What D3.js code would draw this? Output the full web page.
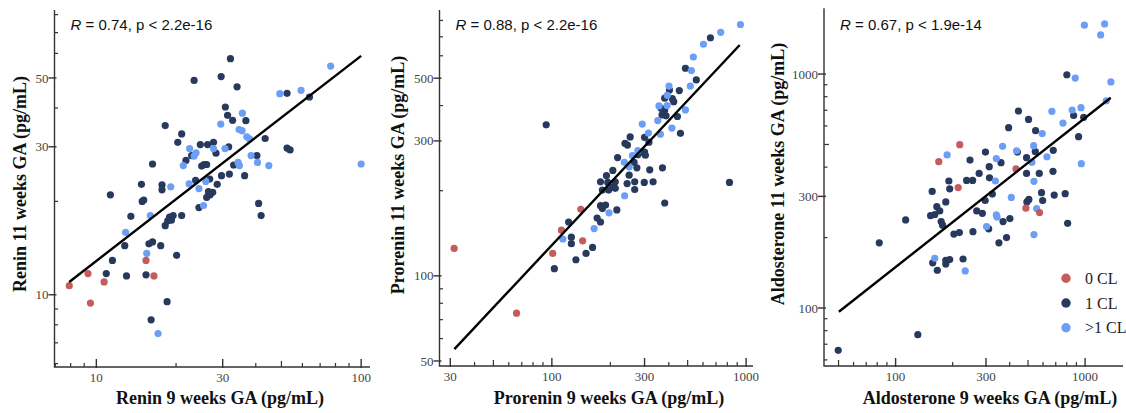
<!DOCTYPE html>
<html lang="en">
<head>
<meta charset="UTF-8">
<title>CL scatter 9 vs 11 weeks</title>
<script src="https://cdn.jsdelivr.net/npm/d3@7/dist/d3.min.js"></script>
<style>
    body { margin: 0; background: #fff; }
    .tick-label { font-family: "Liberation Serif", "Times New Roman", serif; font-size: 13px; fill: #444; }
    .axis-title { font-family: "Liberation Serif", "Times New Roman", serif; font-size: 18px; font-weight: bold; fill: #111; }
    .stat { font-family: "Liberation Sans", Arial, sans-serif; font-size: 15px; fill: #111; }
    .legend text { font-family: "Liberation Serif", "Times New Roman", serif; font-size: 16px; fill: #222; }
</style>
</head>
<body>
<script>
    // groups (number of corpora lutea)
    const groups = ['0 CL', '1 CL', '>1 CL'];
    const groupColors = ['#c65b5b', '#27395d', '#6d9ef5'];

    // Renin: [9 weeks, 11 weeks] pg/mL
    const reninCL0 = [[7.9, 10.7], [9.3, 11.7], [9.5, 9.4], [10.7, 11.0], [15.4, 12.9], [16.5, 11.5]];
    const reninCL1 = [[11.3, 21.0], [13.5, 17.9], [10.9, 11.7], [11.5, 12.9], [12.8, 14.4], [13.0, 11.5], [14.8, 22.7],
        [14.9, 20.0], [15.1, 20.2], [15.4, 11.6], [15.8, 14.6], [16.3, 14.8], [16.3, 26.4], [16.1, 8.3], [17.5, 14.4],
        [17.7, 22.6], [17.7, 21.8], [18.2, 35.1], [18.2, 16.7], [18.6, 17.3], [18.9, 17.8], [19.2, 17.4], [19.5, 18.0],
        [18.5, 9.5], [20.1, 13.4], [20.3, 31.0], [21.0, 18.0], [21.0, 33.0], [21.8, 27.1], [22.9, 28.1], [23.4, 49.1],
        [23.7, 23.4], [24.4, 19.1], [24.7, 30.5], [25.0, 26.0], [25.5, 26.3], [26.1, 26.3], [26.3, 30.5], [26.1, 20.6],
        [26.5, 21.5], [26.9, 21.0], [26.8, 23.6], [27.7, 31.0], [27.5, 21.4], [28.3, 28.6], [28.6, 22.7], [29.6, 50.5],
        [29.7, 24.2], [30.7, 40.3], [31.3, 37.9], [31.6, 30.0], [31.8, 24.5], [32.1, 57.7], [32.7, 36.5], [33.0, 26.2],
        [34.0, 46.8], [36.3, 24.2], [36.7, 36.4], [40.4, 28.1], [41.0, 19.7], [41.9, 18.0], [43.4, 31.9], [52.5, 44.6],
        [52.5, 29.7], [53.9, 29.3], [63.8, 43.4]];
    const reninCL2 = [[12.9, 15.9], [15.5, 13.6], [16.0, 18.0], [17.1, 7.5], [19.1, 22.3], [21.3, 26.1], [22.5, 29.6],
        [22.4, 22.8], [23.4, 28.0], [23.8, 28.7], [24.4, 22.0], [25.4, 19.4], [25.9, 23.2], [27.7, 29.6], [29.5, 35.5],
        [30.6, 29.6], [34.6, 34.1], [34.3, 26.7], [34.7, 26.1], [35.6, 38.5], [35.5, 33.8], [37.0, 32.3], [37.9, 31.8],
        [38.4, 28.1], [40.6, 26.7], [44.8, 26.1], [49.3, 44.5], [59.3, 45.6], [76.7, 54.6], [100, 26.4]];

    // Prorenin
    const proCL0 = [[31.4, 125], [65.8, 73.8], [101, 120], [112, 145], [141, 172], [144, 133]];
    const proCL1 = [[93.5, 342], [103, 106], [122, 155], [126, 137], [126, 130], [133, 114], [150, 120], [162, 126],
        [171, 160], [178, 155], [178, 215], [182, 201], [178, 177], [189, 178], [182, 173], [191, 226], [194, 214],
        [196, 201], [206, 236], [205, 206], [212, 215], [212, 204], [216, 171], [218, 262], [238, 294], [245, 290],
        [244, 212], [250, 227], [253, 310], [265, 252], [267, 202], [267, 215], [274, 241], [285, 273], [277, 268],
        [299, 214], [300, 274], [300, 309], [303, 267], [316, 297], [319, 237], [332, 215], [371, 241], [381, 181],
        [365, 391], [381, 425], [381, 386], [387, 368], [403, 454], [417, 423], [424, 413], [443, 366], [459, 319],
        [453, 452], [487, 542], [554, 493], [655, 695], [821, 214], [369, 371]];
    const proCL2 = [[114, 135], [165, 147], [197, 167], [236, 252], [237, 192], [260, 266], [250, 243], [277, 277],
        [292, 344], [314, 320], [351, 354], [356, 399], [362, 317], [393, 435], [401, 469], [415, 333], [487, 386],
        [516, 469], [523, 532], [535, 594], [603, 659], [740, 726], [935, 774], [392, 400]];

    // Aldosterone
    const aldoCL0 = [[169, 422], [218, 499], [214, 327], [432, 393], [487, 267], [575, 256]];
    const aldoCL1 = [[49.8, 65.9], [82, 190], [113, 238], [131, 76.9], [156, 315], [153, 248], [161, 251], [157, 156],
        [166, 145], [165, 271], [171, 260], [174, 234], [177, 226], [184, 284], [184, 160], [184, 154], [191, 349],
        [193, 323], [193, 161], [203, 207], [217, 210], [227, 162], [237, 351], [247, 429], [255, 351], [256, 212],
        [268, 260], [276, 376], [287, 254], [298, 464], [297, 288], [310, 218], [312, 402], [313, 360], [324, 307],
        [351, 190], [360, 418], [369, 234], [385, 200], [395, 590], [401, 241], [445, 695], [439, 464], [491, 376],
        [503, 640], [491, 439], [505, 291], [546, 466], [548, 573], [573, 376], [589, 311], [597, 288], [677, 384],
        [679, 472], [687, 304], [785, 308], [801, 993], [809, 230], [870, 665], [924, 540], [983, 653], [493, 284]];
    const aldoCL2 = [[161, 163], [187, 451], [233, 144], [302, 223], [340, 435], [336, 349], [340, 250], [343, 245],
        [367, 491], [408, 297], [435, 470], [535, 494], [524, 420], [537, 348], [555, 266], [537, 206], [594, 557],
        [629, 443], [668, 692], [764, 617], [855, 702], [887, 961], [951, 718], [955, 414], [991, 1618], [1208, 1469],
        [1268, 1637], [1294, 769], [1368, 925]];

    // fitted lines (endpoints, data units)
    const reninFit = [[7.9, 11.0], [100, 58.9]];
    const proFit = [[31.5, 55.1], [927, 655]];
    const aldoFit = [[50.2, 96.4], [1365, 792]];

    // labelled ticks
    const reninXTicks = [10, 30, 100], reninYTicks = [10, 30, 50];
    const proXTicks = [30, 100, 300, 1000], proYTicks = [50, 100, 300, 500];
    const aldoXTicks = [100, 300, 1000], aldoYTicks = [100, 300, 1000];

    const stats = ['= 0.74, p < 2.2e-16', '= 0.88, p < 2.2e-16', '= 0.67, p < 1.9e-14'];

    const svg = d3.select('body').append('svg')
        .attr('width', 1126)
        .attr('height', 413);

    const panels = [
        {data: [reninCL0, reninCL1, reninCL2], fit: reninFit, xTicks: reninXTicks, yTicks: reninYTicks,
            xDomain: [6.95, 108], xRange: [54.5, 370], yDomain: [5.85, 82.8], yRange: [367, 10],
            xTitle: 'Renin 9 weeks GA (pg/mL)', yTitle: 'Renin 11 weeks GA (pg/mL)',
            xTitlePos: [220, 404], yTitlePos: [26, 184], stat: stats[0]},
        {data: [proCL0, proCL1, proCL2], fit: proFit, xTicks: proXTicks, yTicks: proYTicks,
            xDomain: [26.4, 1085], xRange: [439.5, 753], yDomain: [48, 871], yRange: [366, 10],
            xTitle: 'Prorenin 9 weeks GA (pg/mL)', yTitle: 'Prorenin 11 weeks GA (pg/mL)',
            xTitlePos: [609, 404], yTitlePos: [404, 175], stat: stats[1]},
        {data: [aldoCL0, aldoCL1, aldoCL2], fit: aldoFit, xTicks: aldoXTicks, yTicks: aldoYTicks,
            xDomain: [41.9, 1585], xRange: [824, 1123], yDomain: [56.5, 1910], yRange: [366, 8.3],
            xTitle: 'Aldosterone 9 weeks GA (pg/mL)', yTitle: 'Aldosterone 11 weeks GA (pg/mL)',
            xTitlePos: [990, 404], yTitlePos: [784, 174], stat: stats[2]}
    ];

    // integer multiples of each decade that are not labelled
    function logMinors (domain, majors) {
        let out = [];
        for (let e = Math.floor(Math.log10(domain[0])); e <= Math.ceil(Math.log10(domain[1])); e++) {
            for (let k = 1; k <= 9; k++) {
                let v = k * Math.pow(10, e);
                if (v >= domain[0] && v <= domain[1] && !majors.some(m => Math.abs(m - v) / v < 1e-6)) {
                    out.push({v: v, k: k});
                }
            }
        }
        return out;
    }

    function drawPanel (p) {
        const x = d3.scaleLog().domain(p.xDomain).range(p.xRange);
        const y = d3.scaleLog().domain(p.yDomain).range(p.yRange);
        const x0 = p.xRange[0], y0 = p.yRange[0];
        const g = svg.append('g');
        const axisColor = '#333';

        // axis lines
        g.append('path')
            .attr('d', `M${x0},${p.yRange[1]}V${y0}H${p.xRange[1]}`)
            .attr('fill', 'none')
            .attr('stroke', axisColor)
            .attr('stroke-width', 1.4);

        // x ticks
        g.selectAll('.xminor').data(logMinors(p.xDomain, p.xTicks)).enter()
            .append('line')
            .attr('x1', d => x(d.v)).attr('x2', d => x(d.v))
            .attr('y1', y0).attr('y2', d => y0 - (d.k === 5 ? 6 : 4))
            .attr('stroke', axisColor).attr('stroke-width', 1.2);
        g.selectAll('.xmajor').data(p.xTicks).enter()
            .append('line')
            .attr('x1', d => x(d)).attr('x2', d => x(d))
            .attr('y1', y0 + 1).attr('y2', y0 - 8)
            .attr('stroke', axisColor).attr('stroke-width', 1.4);
        g.selectAll('.xlabel').data(p.xTicks).enter()
            .append('text')
            .attr('class', 'tick-label')
            .attr('x', d => x(d)).attr('y', y0 + 15)
            .attr('text-anchor', 'middle')
            .text(d => d);

        // y ticks
        g.selectAll('.yminor').data(logMinors(p.yDomain, p.yTicks)).enter()
            .append('line')
            .attr('x1', x0).attr('x2', d => x0 + (d.k === 5 ? 5 : 3.5))
            .attr('y1', d => y(d.v)).attr('y2', d => y(d.v))
            .attr('stroke', axisColor).attr('stroke-width', 1.2);
        g.selectAll('.ymajor').data(p.yTicks).enter()
            .append('line')
            .attr('x1', x0 - 6).attr('x2', x0 + 2)
            .attr('y1', d => y(d)).attr('y2', d => y(d))
            .attr('stroke', axisColor).attr('stroke-width', 1.4);
        g.selectAll('.ylabel').data(p.yTicks).enter()
            .append('text')
            .attr('class', 'tick-label')
            .attr('x', x0 - 6).attr('y', d => y(d))
            .attr('dy', '0.35em')
            .attr('text-anchor', 'end')
            .text(d => d);

        // points: 1 CL, then >1 CL, then 0 CL on top
        const pts = [1, 2, 0].flatMap(gi => p.data[gi].map(d => ({x: d[0], y: d[1], g: gi})));
        g.selectAll('circle').data(pts).enter()
            .append('circle')
            .attr('cx', d => x(d.x))
            .attr('cy', d => y(d.y))
            .attr('r', 3.6)
            .attr('fill', d => groupColors[d.g]);

        // regression line
        g.append('line')
            .attr('x1', x(p.fit[0][0])).attr('y1', y(p.fit[0][1]))
            .attr('x2', x(p.fit[1][0])).attr('y2', y(p.fit[1][1]))
            .attr('stroke', '#000')
            .attr('stroke-width', 2.4);

        // correlation text
        let st = g.append('text').attr('class', 'stat').attr('x', x0 + 16).attr('y', 30);
        st.append('tspan').attr('font-style', 'italic').text('R');
        st.append('tspan').text(' ' + p.stat);

        // axis titles
        g.append('text')
            .attr('class', 'axis-title')
            .attr('x', p.xTitlePos[0]).attr('y', p.xTitlePos[1])
            .attr('text-anchor', 'middle')
            .text(p.xTitle);
        g.append('text')
            .attr('class', 'axis-title')
            .attr('transform', `translate(${p.yTitlePos[0]},${p.yTitlePos[1]}) rotate(-90)`)
            .attr('text-anchor', 'middle')
            .text(p.yTitle);
    }

    panels.forEach(drawPanel);

    // legend
    const legend = svg.append('g').attr('class', 'legend');
    const ly = d3.scalePoint().domain(groups).range([278.3, 327.7]);
    legend.selectAll('circle').data(groups).enter()
        .append('circle')
        .attr('cx', 1066).attr('cy', d => ly(d))
        .attr('r', 4.7)
        .attr('fill', (d, i) => groupColors[i]);
    legend.selectAll('text').data(groups).enter()
        .append('text')
        .attr('x', 1085).attr('y', d => ly(d) + 5.5)
        .text(d => d);
</script>
</body>
</html>
